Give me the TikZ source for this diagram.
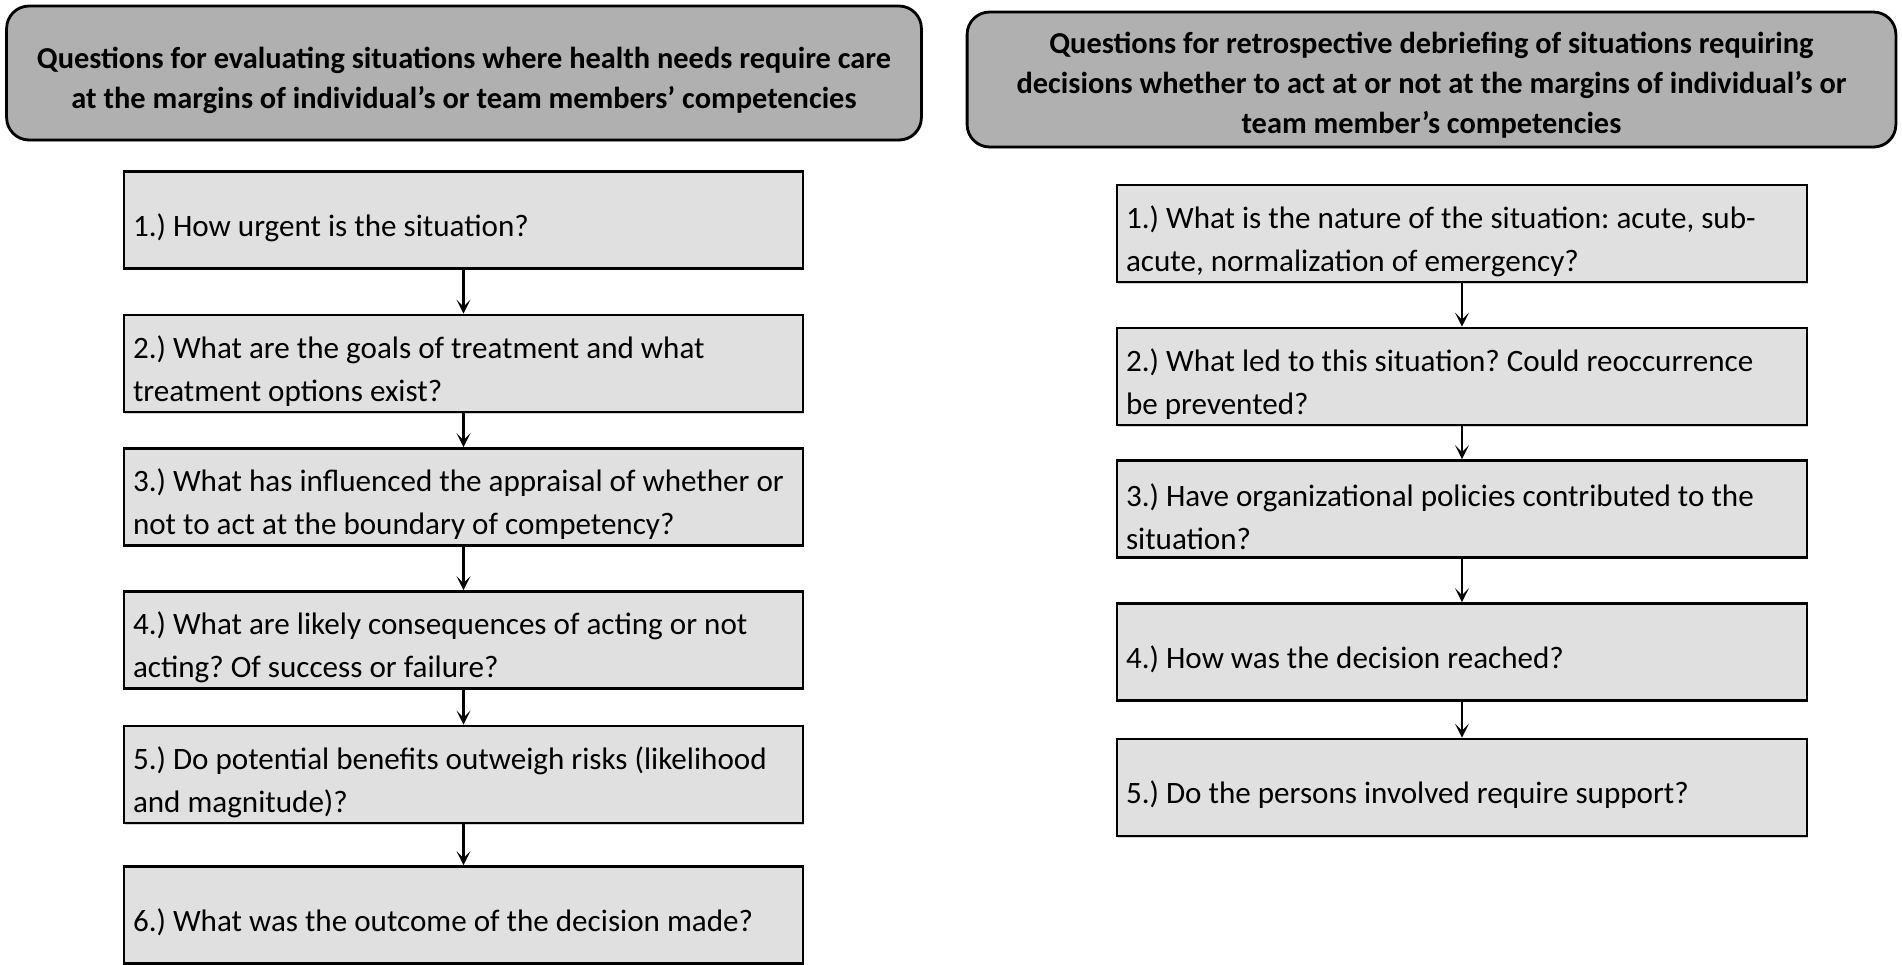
\documentclass[tikz,border=0pt]{standalone}
\usepackage{fontspec}
\setmainfont{Carlito}
\usepackage{xcolor}
\usepackage{tikz}
\usetikzlibrary{positioning,arrows.meta,shadows}
\frenchspacing

\definecolor{headgray}{RGB}{176,176,176}
\definecolor{boxgray}{RGB}{224,224,224}

\begin{document}
\begin{tikzpicture}[x=0.02cm,y=-0.02cm,
    head/.style={rectangle,draw,line width=1.6pt,rounded corners=0.45cm,fill=headgray,
                 minimum width=18.3cm,minimum height=2.68cm,
                 drop shadow={opacity=0.35,shadow xshift=0.5pt,shadow yshift=-1pt}},
    htext/.style={align=center,font=\fontsize{17.3}{22.8}\selectfont\bfseries},
    qbox/.style={rectangle,draw,line width=1.6pt,fill=boxgray,
                 minimum width=13.58cm,minimum height=1.94cm,
                 drop shadow={opacity=0.35,shadow xshift=0.5pt,shadow yshift=-1pt}},
    qtext/.style={anchor=west,align=left,inner sep=0.2cm,
                  font=\fontsize{17.7}{24.4}\selectfont},
    link/.style={-{Stealth[length=8pt,width=8pt,inset=4pt]},line width=1.4pt}
]
\useasboundingbox (0,0) rectangle (1902,964);

\node[head] (lh) at (464,73) {};
\node[htext] (lht) at (464,80) {Questions for evaluating situations where health needs require care\\
  at the margins of individual's or team members' competencies};
\node[head,minimum width=18.58cm,minimum height=2.7cm] (rh) at (1431.5,79.5) {};
\node[htext] (rht) at (1431.5,85) {Questions for retrospective debriefing of situations requiring\\
  decisions whether to act at or not at the margins of individual's or\\
  team member's competencies};

\node[qbox] (l1) at (463.5,220) {};
\node[qbox] (l2) at (463.5,363.5) {};
\node[qbox] (l3) at (463.5,497) {};
\node[qbox] (l4) at (463.5,640) {};
\node[qbox] (l5) at (463.5,774.5) {};
\node[qbox] (l6) at (463.5,915) {};
\node[qtext] (l1t) at ([yshift=-0.15cm]l1.west) {1.) How urgent is the situation?};
\node[qtext] (l2t) at ([yshift=-0.15cm]l2.west) {2.) What are the goals of treatment and what\\treatment options exist?};
\node[qtext] (l3t) at ([yshift=-0.15cm]l3.west) {3.) What has influenced the appraisal of whether or\\not to act at the boundary of competency?};
\node[qtext] (l4t) at ([yshift=-0.15cm]l4.west) {4.) What are likely consequences of acting or not\\acting? Of success or failure?};
\node[qtext] (l5t) at ([yshift=-0.15cm]l5.west) {5.) Do potential benefits outweigh risks (likelihood\\and magnitude)?};
\node[qtext] (l6t) at ([yshift=-0.15cm]l6.west) {6.) What was the outcome of the decision made?};

\node[qbox,minimum width=13.8cm] (r1) at (1462,233.5) {};
\node[qbox,minimum width=13.8cm] (r2) at (1462,376.5) {};
\node[qbox,minimum width=13.8cm] (r3) at (1462,509) {};
\node[qbox,minimum width=13.8cm] (r4) at (1462,652) {};
\node[qbox,minimum width=13.8cm] (r5) at (1462,787.5) {};
\node[qtext] (r1t) at ([yshift=-0.15cm]r1.west) {1.) What is the nature of the situation: acute, sub-\\acute, normalization of emergency?};
\node[qtext] (r2t) at ([yshift=-0.15cm]r2.west) {2.) What led to this situation? Could reoccurrence\\be prevented?};
\node[qtext] (r3t) at ([yshift=-0.15cm]r3.west) {3.) Have organizational policies contributed to the\\situation?};
\node[qtext] (r4t) at ([yshift=-0.15cm]r4.west) {4.) How was the decision reached?};
\node[qtext] (r5t) at ([yshift=-0.15cm]r5.west) {5.) Do the persons involved require support?};

\foreach \a/\b in {l1/l2,l2/l3,l3/l4,l4/l5,l5/l6,r1/r2,r2/r3,r3/r4,r4/r5}
  \draw[link] (\a) -- (\b);
\end{tikzpicture}
\end{document}
